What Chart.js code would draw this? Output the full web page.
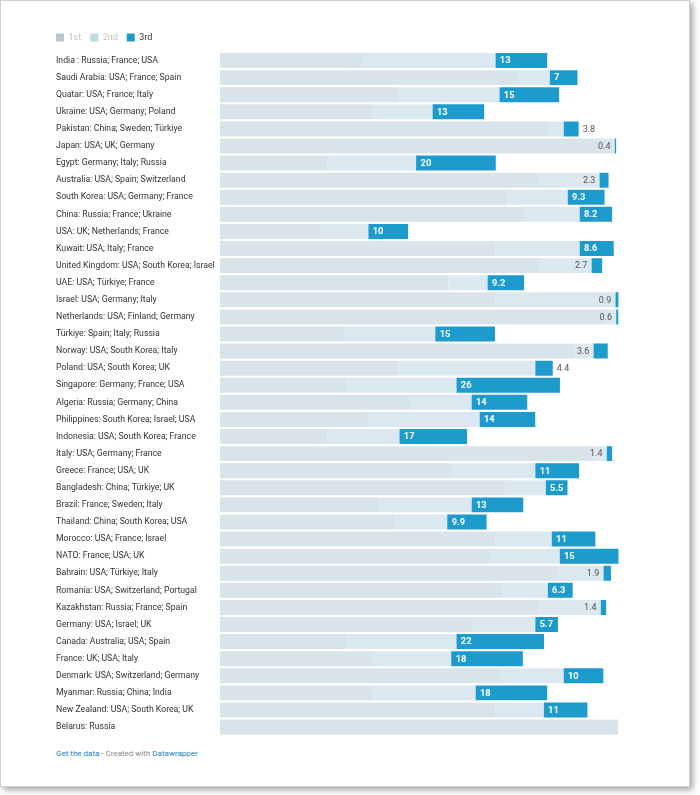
<!DOCTYPE html>
<html>
<head>
<meta charset="utf-8">
<script src="https://cdn.jsdelivr.net/npm/chart.js@4/dist/chart.umd.min.js"></script>
<style>
html,body{margin:0;padding:0;background:#fff;}
#card{position:absolute;left:0;top:0;width:688px;height:785px;border:1px solid #cfcfcf;box-shadow:3px 3px 6px rgba(0,0,0,0.35);background:#fff;}
#wrap{position:absolute;left:0;top:0;width:690px;height:745px;}
#foot{position:absolute;left:56px;top:749px;font:8px Roboto,sans-serif;color:#8a8a8a;white-space:nowrap;}
#foot a{color:#1a80b6;text-decoration:none;}
</style>
</head>
<body>
<div id="card"></div>
<div id="wrap"><canvas id="c" width="690" height="745"></canvas></div>
<div id="foot"><a>Get the data</a> - Created with <a>Datawrapper</a></div>
<script>
const categories = [
  "India : Russia; France; USA",
  "Saudi Arabia: USA; France; Spain",
  "Quatar: USA; France; Italy",
  "Ukraine: USA; Germany; Poland",
  "Pakistan: China; Sweden; Türkiye",
  "Japan: USA; UK; Germany",
  "Egypt: Germany; Italy; Russia",
  "Australia: USA; Spain; Switzerland",
  "South Korea: USA; Germany; France",
  "China: Russia; France; Ukraine",
  "USA: UK; Netherlands; France",
  "Kuwait: USA; Italy; France",
  "United Kingdom: USA; South Korea; Israel",
  "UAE: USA; Türkiye; France",
  "Israel: USA; Germany; Italy",
  "Netherlands: USA; Finland; Germany",
  "Türkiye: Spain; Italy; Russia",
  "Norway: USA; South Korea; Italy",
  "Poland: USA; South Korea; UK",
  "Singapore: Germany; France; USA",
  "Algeria: Russia; Germany; China",
  "Philippines: South Korea; Israel; USA",
  "Indonesia: USA; South Korea; France",
  "Italy: USA; Germany; France",
  "Greece: France; USA; UK",
  "Bangladesh: China; Türkiye; UK",
  "Brazil: France; Sweden; Italy",
  "Thailand: China; South Korea; USA",
  "Morocco: USA; France; Israel",
  "NATO: France; USA; UK",
  "Bahrain: USA; Türkiye; Italy",
  "Romania: USA; Switzerland; Portugal",
  "Kazakhstan: Russia; France; Spain",
  "Germany: USA; Israel; UK",
  "Canada: Australia; USA; Spain",
  "France: UK; USA; Italy",
  "Denmark: USA; Switzerland; Germany",
  "Myanmar: Russia; China; India",
  "New Zealand: USA; South Korea; UK",
  "Belarus: Russia"
];
const first = [35.9, 75, 44.7, 38.4, 82.4, 97, 26.9, 79.9, 72.1, 76.6, 25.1, 69.1, 80, 57.3, 69.1, 97, 31.4, 89, 44.7, 31.9, 47.7, 37.2, 26.9, 94, 58.3, 71.6, 39.7, 44, 69.1, 67.8, 85, 70.9, 80, 63.3, 31.9, 38.2, 70.4, 38.2, 69.1, 100];
const second = [33.2, 7.7, 25.4, 14.9, 3.8, 2, 22.3, 15.3, 15.1, 13.6, 12.1, 21.1, 13.2, 9.8, 30.1, 2.4, 22.6, 4.7, 34.4, 27.4, 15.4, 27.9, 18.1, 3, 20.8, 10.1, 23.4, 13, 14.1, 17.4, 11.2, 11.3, 15.5, 15.8, 27.4, 19.8, 15.8, 25.9, 12.1, 0];
const third = [13, 7, 15, 13, 3.8, 0.4, 20, 2.3, 9.3, 8.2, 10, 8.6, 2.7, 9.2, 0.9, 0.6, 15, 3.6, 4.4, 26, 14, 14, 17, 1.4, 11, 5.5, 13, 9.9, 11, 15, 1.9, 6.3, 1.4, 5.7, 22, 18, 10, 18, 11, 0];
const seriesNames = ["1st", "2nd", "3rd"];

const barColors = ["#d9e3ea", "#dbe8ef", "#1d9bcc"];
const legendBoxColors = ["#b4c7d2", "#bddbe6", "#1d9bcc"];
const legendTextColors = ["#c2c2c2", "#c2c2c2", "#333333"];

const yLabelShift = {
  id: 'yLabelShift',
  afterLayout(chart) {
    chart.scales.y.left = 56;
  }
};

const valueLabels = {
  id: 'valueLabels',
  afterDatasetsDraw(chart) {
    const ctx = chart.ctx;
    const meta = chart.getDatasetMeta(2);
    const area = chart.chartArea;
    ctx.save();
    ctx.textBaseline = 'middle';
    meta.data.forEach((bar, i) => {
      const v = third[i];
      if (!v) return;
      const txt = String(v);
      const l = Math.min(bar.x, bar.base), r = Math.max(bar.x, bar.base);
      if (v >= 5) {
        ctx.font = 'bold 9.3px Roboto, sans-serif';
        ctx.fillStyle = '#ffffff';
        ctx.textAlign = 'left';
        ctx.fillText(txt, l + 4.5, bar.y + 0.5);
      } else {
        ctx.font = '9px Roboto, sans-serif';
        ctx.fillStyle = '#555555';
        const w = ctx.measureText(txt).width;
        if (r + 4 + w + 4 <= area.right) {
          ctx.textAlign = 'left';
          ctx.fillText(txt, r + 4, bar.y + 0.5);
        } else {
          ctx.textAlign = 'right';
          ctx.fillText(txt, l - 4, bar.y + 0.5);
        }
      }
    });
    ctx.restore();
  }
};

new Chart(document.getElementById('c'), {
  type: 'bar',
  data: {
    labels: categories,
    datasets: [
      { label: seriesNames[0], data: first, backgroundColor: barColors[0] },
      { label: seriesNames[1], data: second, backgroundColor: barColors[1] },
      { label: seriesNames[2], data: third, backgroundColor: barColors[2] }
    ]
  },
  options: {
    indexAxis: 'y',
    responsive: false,
    animation: false,
    devicePixelRatio: 1,
    layout: { padding: { left: 47, right: 71.5, top: 24, bottom: 9.4 } },
    datasets: { bar: { barPercentage: 0.876, categoryPercentage: 1, borderWidth: 0 } },
    scales: {
      x: { stacked: true, min: 0, max: 100, display: false },
      y: {
        stacked: true,
        grid: { display: false },
        border: { display: false },
        afterFit: s => { s.width = 173; },
        ticks: {
          autoSkip: false,
          crossAlign: 'far',
          color: '#333333',
          font: { family: 'Roboto, sans-serif', size: 8.7 }
        }
      }
    },
    plugins: {
      tooltip: { enabled: false },
      legend: {
        position: 'top',
        align: 'start',
        onClick: null,
        labels: {
          boxWidth: 8,
          boxHeight: 8,
          padding: 9,
          font: { family: 'Roboto, sans-serif', size: 9 },
          generateLabels: () => seriesNames.map((n, i) => ({
            text: n,
            fillStyle: legendBoxColors[i],
            strokeStyle: legendBoxColors[i],
            lineWidth: 0,
            fontColor: legendTextColors[i],
            hidden: false,
            datasetIndex: i
          }))
        }
      }
    }
  },
  plugins: [yLabelShift, valueLabels]
});
</script>
</body>
</html>
